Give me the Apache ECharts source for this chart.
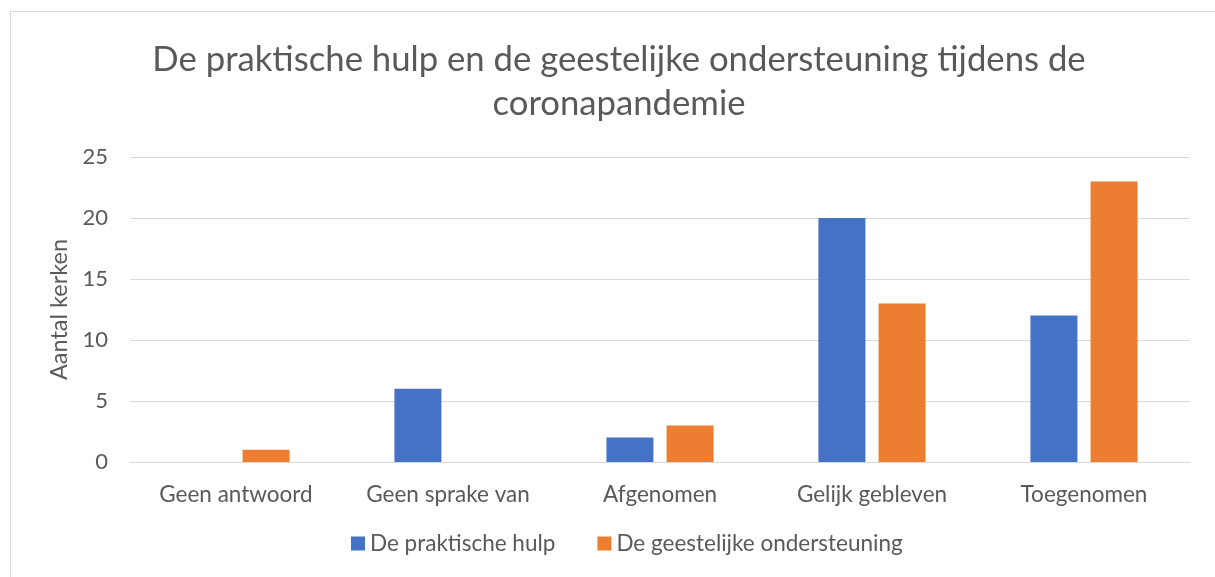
<!DOCTYPE html>
<html>
<head>
<meta charset="utf-8">
<script src="https://cdn.jsdelivr.net/npm/echarts@6/dist/echarts.min.js"></script>
<style>
  html, body { margin: 0; padding: 0; background: #fff; }
  #frame { position: absolute; left: 10px; top: 11px; width: 1220px; height: 580px; border: 1px solid #d9d9d9; box-sizing: border-box; }
  #chart { position: absolute; left: 0; top: 0; width: 1215px; height: 577px; }
</style>
</head>
<body>
<div id="frame"></div>
<div id="chart"></div>
<script>
const categories = ['Geen antwoord', 'Geen sprake van', 'Afgenomen', 'Gelijk gebleven', 'Toegenomen'];
const praktischeHulp = [0, 6, 2, 20, 12];
const geestelijkeOndersteuning = [1, 0, 3, 13, 23];

const textColor = '#595959';
const font = 'Lato, Open Sans, sans-serif';

const chart = echarts.init(document.getElementById('chart'));

chart.setOption({
  animation: false,
  textStyle: { fontFamily: font },
  title: {
    text: 'De praktische hulp en de geestelijke ondersteuning tijdens de\ncoronapandemie',
    left: 614,
    top: 33,
    textAlign: 'center',
    textStyle: { fontSize: 34.7, fontWeight: 'normal', color: textColor, lineHeight: 44, fontFamily: font }
  },
  legend: {
    bottom: 17,
    left: 346,
    itemWidth: 14,
    itemHeight: 14,
    itemGap: 42,
    icon: 'rect',
    textStyle: { fontSize: 22.5, color: textColor, fontFamily: font },
    data: ['De praktische hulp', 'De geestelijke ondersteuning']
  },
  grid: { left: 130, right: 25, top: 157, bottom: 115, containLabel: false },
  xAxis: {
    type: 'category',
    data: categories,
    axisLine: { show: true, lineStyle: { color: '#d9d9d9' } },
    axisTick: { show: false },
    axisLabel: { interval: 0, fontSize: 22.5, color: textColor, margin: 21, fontFamily: font }
  },
  yAxis: {
    type: 'value',
    min: 0,
    max: 25,
    interval: 5,
    name: 'Aantal kerken',
    nameLocation: 'middle',
    nameGap: 58,
    nameTextStyle: { fontSize: 23.5, color: textColor, fontFamily: font },
    axisLabel: { fontSize: 22, color: textColor, margin: 22, fontFamily: font },
    splitLine: { lineStyle: { color: '#d9d9d9', width: 1 } },
    axisLine: { show: false },
    axisTick: { show: false }
  },
  series: [
    {
      name: 'De praktische hulp',
      type: 'bar',
      data: praktischeHulp,
      barWidth: 47,
      barGap: '28%',
      itemStyle: { color: '#4472C4' }
    },
    {
      name: 'De geestelijke ondersteuning',
      type: 'bar',
      data: geestelijkeOndersteuning,
      barWidth: 47,
      barGap: '28%',
      itemStyle: { color: '#ED7D31' }
    }
  ]
});

window.addEventListener('resize', () => chart.resize());
</script>
</body>
</html>
